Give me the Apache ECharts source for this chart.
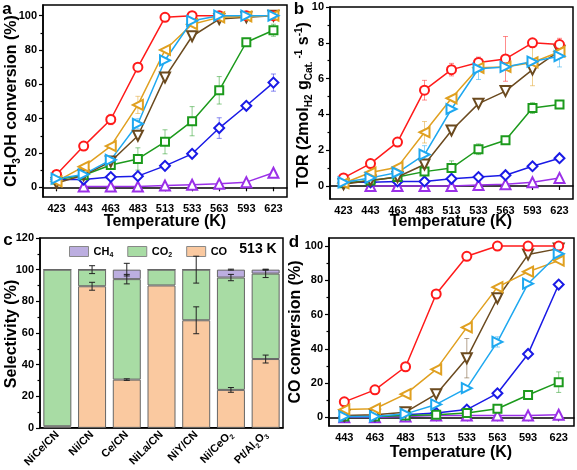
<!DOCTYPE html>
<html><head><meta charset="utf-8">
<script src="https://cdn.jsdelivr.net/npm/echarts@6/dist/echarts.min.js"></script>
<style>html,body{margin:0;padding:0;background:#fff}#c{width:577px;height:470px}</style>
</head><body><div id="c"></div>
<script>
// ---------- DATA ----------
const tempsAB = ['423','443','463','483','513','533','563','593','623'];
const tempsD = ['443','463','483','513','533','563','593','623'];

// panel a: CH3OH conversion (%)
const aRed    = [7.5, 24, 39.5, 70, 99, 100, 100, 100, 100];
const aOrange = [3.5, 12, 24, 48, 80, 95, 99, 99.5, 100];
const aLblue  = [5, 7.5, 16, 37, 74, 97, 100, 100, 100];
const aBrown  = [2.5, 7, 15, 30, 64, 88, 98, 99, 100];
const aGreen  = [4.5, 7, 13, 16.5, 26.5, 38.5, 56.5, 84.5, 91.5];
const aBlue   = [4.5, 4.5, 6, 6.5, 12.5, 19.5, 34.5, 47.5, 61];
const aPurple = [null, 0.5, 0.5, 0.5, 1, 1.5, 2, 3, 8.5];
const aErrRed    = [0, 0, 3, 2, 0, 0, 0, 0, 0];
const aErrOrange = [0, 0, 0, 5, 0, 0, 0, 0, 0];
const aErrLblue  = [0, 0, 0, 3, 0, 0, 0, 0, 0];
const aErrGreen  = [0, 0, 0, 6.5, 7, 8.5, 8, 2, 3.5];
const aErrBlue   = [0, 0, 0, 0, 0, 0, 6, 0, 5];

// panel b: TOR
const bRed    = [0.45, 1.25, 2.45, 5.35, 6.5, 6.9, 7.1, 8.0, 7.9];
const bOrange = [0.15, 0.75, 1.05, 3.0, 4.9, 6.6, 6.65, 6.9, 7.5];
const bLblue  = [0.2, 0.45, 0.75, 1.75, 4.3, 6.55, 6.65, 6.95, 7.25];
const bBrown  = [0.1, 0.3, 0.5, 1.2, 3.1, 4.6, 5.3, 6.5, 7.55];
const bGreen  = [0.15, 0.3, 0.5, 0.8, 1.0, 2.05, 2.55, 4.35, 4.55];
const bBlue   = [0.2, 0.2, 0.25, 0.25, 0.4, 0.5, 0.6, 1.1, 1.55];
const bPurple = [null, 0.0, 0.0, 0.0, 0.0, 0.05, 0.1, 0.2, 0.45];
const bErrRed    = [0, 0, 0, 0.55, 0.35, 0.3, 1.25, 0, 0.35];
const bErrOrange = [0, 0, 0, 0.6, 0, 0, 0, 1.3, 0];
const bErrLblue  = [0, 0, 0, 0.5, 0, 0.6, 0, 0, 0.6];
const bErrGreen  = [0, 0, 0, 0, 0.4, 0.3, 0, 0.3, 0];

// panel c: selectivity at 513 K
const catalysts = ['NiCe/CN','Ni/CN','Ce/CN','NiLa/CN','NiY/CN','Ni/CeO2','Pt/Al2O3'];
const selCO  = [1, 89.5, 30.5, 90, 68, 24, 43.5];
const selCO2 = [99, 10.5, 63.5, 10, 32, 71, 54];
const selCH4 = [0, 0, 6, 0, 0, 5, 2.5];
const errCO  = [0, 2.5, 0.5, 0, 8.5, 1.5, 2.5];
const errCO2 = [0, 2.5, 3, 0, 8.5, 2, 2.5];
const errCH4 = [0, 0, 4, 0, 0, 0.3, 0.3];

// panel d: CO conversion (%)
const dRed    = [9, 16, 29.5, 72, 94, 100, 100, 100];
const dOrange = [4.5, 5, 13.5, 28, 52.5, 76, 85, 91.5];
const dLblue  = [0.5, 0.5, 2, 7.5, 17, 44, 78, 95.5];
const dBrown  = [1, 1.5, 3, 13.5, 34.5, 69.5, 95, 98.5];
const dGreen  = [0.5, 0.5, 1, 1.5, 2.5, 5, 13, 20.5];
const dBlue   = [0.5, 0.5, 1.5, 2.5, 4.5, 14, 37, 77.5];
const dPurple = [0, 0, 0.5, 1, 1, 1, 1, 1.5];
const dErrRed   = [2, 0, 0, 0, 0, 0, 0, 0];
const dErrBrown = [0, 0, 0, 0, 11.5, 0, 0, 0];
const dErrLblue = [0, 0, 0, 0, 0, 3, 0, 0];
const dErrGreen = [0, 0, 0, 0, 0, 0, 0, 6];

// ---------- STYLE ----------
const FF = 'Liberation Sans, Arial, sans-serif';
const C = {red:'#ff1a1a', orange:'#e0a020', lblue:'#1ea8f0', brown:'#6b4a1f', green:'#1c9a1c', blue:'#1a1ae6', purple:'#9b30e8'};
const SYM = {
  red:{symbol:'emptyCircle', size:9, rot:0},
  orange:{symbol:'emptyTriangle', size:10, rot:90},
  lblue:{symbol:'emptyTriangle', size:10, rot:-90},
  brown:{symbol:'emptyTriangle', size:10, rot:180},
  green:{symbol:'emptyRect', size:8, rot:0},
  blue:{symbol:'emptyRect', size:7, rot:45},
  purple:{symbol:'emptyTriangle', size:10, rot:0}
};

function lineSeries(key, data, xi, yi){
  const s = SYM[key];
  return {type:'line', xAxisIndex:xi, yAxisIndex:yi, data:data, symbol:s.symbol, symbolSize:s.size,
    symbolRotate:s.rot, showAllSymbol:true, connectNulls:false,
    lineStyle:{color:C[key], width:1.5}, itemStyle:{color:C[key], borderWidth:1.5}, z:3, animation:false};
}
function errSeries(color, vals, errs, xi, yi, opacity, w){
  const d = [];
  vals.forEach((v,i)=>{ if(v!=null && errs[i]>0) d.push([i, v, errs[i]]); });
  return {type:'custom', xAxisIndex:xi, yAxisIndex:yi, data:d, z:2, animation:false, silent:true,
    renderItem:function(params, api){
      const x = api.value(0), y = api.value(1), e = api.value(2);
      const t = api.coord([x, y+e]), b = api.coord([x, y-e]);
      const st = {stroke:color, lineWidth:1, opacity:opacity};
      return {type:'group', children:[
        {type:'line', shape:{x1:t[0],y1:t[1],x2:b[0],y2:b[1]}, style:st},
        {type:'line', shape:{x1:t[0]-w,y1:t[1],x2:t[0]+w,y2:t[1]}, style:st},
        {type:'line', shape:{x1:b[0]-w,y1:b[1],x2:b[0]+w,y2:b[1]}, style:st}
      ]};
    }};
}
const lbl = {color:'#000', fontFamily:FF, fontWeight:'bold', fontSize:11};
function yAxes(gi, min, max, majors, minors){
  return [
    {type:'value', gridIndex:gi, min:min, max:max, position:'left',
      axisLine:{show:true, lineStyle:{color:'#000', width:1.5}},
      axisTick:{show:true, customValues:majors, length:4, lineStyle:{color:'#000', width:1.2}},
      axisLabel:Object.assign({customValues:majors, margin:6}, lbl),
      splitLine:{show:false}},
    {type:'value', gridIndex:gi, min:min, max:max, position:'left', offset:0,
      axisLine:{show:false},
      axisTick:{show:true, customValues:minors, length:2.5, lineStyle:{color:'#000', width:1.2}},
      axisLabel:{show:false}, splitLine:{show:false}}
  ];
}
function xAxis(gi, cats, opts){
  return Object.assign({type:'category', gridIndex:gi, data:cats, boundaryGap:true,
    axisLine:{show:true, lineStyle:{color:'#000', width:1.5}},
    axisTick:{show:true, alignWithLabel:true, length:4, lineStyle:{color:'#000', width:1.2}},
    axisLabel:Object.assign({margin:6, interval:0}, lbl),
    splitLine:{show:false}}, opts||{});
}
const gridBase = {show:true, borderColor:'#000', borderWidth:1.5, backgroundColor:'transparent', containLabel:false};

const series = [];
const order = ['purple','blue','green','brown','red','orange','lblue'];
const A = {red:aRed, orange:aOrange, lblue:aLblue, brown:aBrown, green:aGreen, blue:aBlue, purple:aPurple};
const B = {red:bRed, orange:bOrange, lblue:bLblue, brown:bBrown, green:bGreen, blue:bBlue, purple:bPurple};
const D = {red:dRed, orange:dOrange, lblue:dLblue, brown:dBrown, green:dGreen, blue:dBlue, purple:dPurple};
// panel a (grid 0, x0, y0)
series.push(errSeries(C.red, aRed, aErrRed, 0, 0, 0.5, 2.5));
series.push(errSeries(C.orange, aOrange, aErrOrange, 0, 0, 0.5, 2.5));
series.push(errSeries(C.lblue, aLblue, aErrLblue, 0, 0, 0.5, 2.5));
series.push(errSeries(C.green, aGreen, aErrGreen, 0, 0, 0.5, 2.5));
series.push(errSeries(C.blue, aBlue, aErrBlue, 0, 0, 0.5, 2.5));
order.forEach(k=>series.push(lineSeries(k, A[k], 0, 0)));
// panel b (grid 1, x1, y2)
series.push(errSeries(C.red, bRed, bErrRed, 1, 2, 0.5, 2.5));
series.push(errSeries(C.orange, bOrange, bErrOrange, 1, 2, 0.5, 2.5));
series.push(errSeries(C.lblue, bLblue, bErrLblue, 1, 2, 0.5, 2.5));
series.push(errSeries(C.green, bGreen, bErrGreen, 1, 2, 0.5, 2.5));
order.forEach(k=>series.push(lineSeries(k, B[k], 1, 2)));
// panel d (grid 3, x3, y6)
series.push(errSeries(C.red, dRed, dErrRed, 3, 6, 0.5, 2.5));
series.push(errSeries(C.brown, dBrown, dErrBrown, 3, 6, 0.5, 2.5));
series.push(errSeries(C.lblue, dLblue, dErrLblue, 3, 6, 0.5, 2.5));
series.push(errSeries(C.green, dGreen, dErrGreen, 3, 6, 0.5, 2.5));
order.forEach(k=>series.push(lineSeries(k, D[k], 3, 6)));
// panel c (grid 2, x2, y4)
const barBase = {type:'bar', xAxisIndex:2, yAxisIndex:4, stack:'sel', barWidth:28, animation:false};
series.push(Object.assign({name:'CO', data:selCO, itemStyle:{color:'#fac9a0', borderColor:'#666', borderWidth:1}}, barBase));
series.push(Object.assign({name:'CO2', data:selCO2, itemStyle:{color:'#a8dca4', borderColor:'#666', borderWidth:1}}, barBase));
series.push(Object.assign({name:'CH4', data:selCH4, itemStyle:{color:'#bcaee0', borderColor:'#666', borderWidth:1}}, barBase));
const topCO2 = selCO.map((v,i)=>v+selCO2[i]);
const topCH4 = topCO2.map((v,i)=>v+selCH4[i]);
series.push(errSeries('#222', selCO, errCO, 2, 4, 1, 3));
series.push(errSeries('#222', topCO2, errCO2, 2, 4, 1, 3));
series.push(errSeries('#222', topCH4, errCH4, 2, 4, 1, 3));
series.forEach(s=>{ if(s.type==='custom' && s.xAxisIndex===2) s.z = 4; });

function richLbl(size){
  return {m:{fontFamily:FF, fontWeight:'bold', fontSize:size, lineHeight:size+4, color:'#000'},
          s:{fontFamily:FF, fontWeight:'bold', fontSize:Math.round(size*0.65), lineHeight:Math.round(size*0.65), verticalAlign:'bottom', color:'#000'},
          p:{fontFamily:FF, fontWeight:'bold', fontSize:Math.round(size*0.62), lineHeight:Math.round(size*0.62), verticalAlign:'top', color:'#000'}};
}
function subify(v){ return '{m|' + v.replace(/(\d)/g, '}{s|$1}{m|') + '}'; }

function gtext(x, y, text, size, rot, rich){
  return {type:'text', x:x, y:y, rotation:rot||0, silent:true,
    style:{text:text, fill:'#000', fontFamily:FF, fontWeight:'bold', fontSize:size, align:'center', verticalAlign:'middle', rich:rich}};
}

const option = {
  backgroundColor:'#fff',
  animation:false,
  grid:[
    Object.assign({left:43, top:5, width:244, height:192}, gridBase),
    Object.assign({left:330, top:7, width:243, height:192}, gridBase),
    Object.assign({left:40, top:238, width:243, height:191}, gridBase),
    Object.assign({left:329, top:238, width:245, height:188}, gridBase)
  ],
  xAxis:[
    xAxis(0, tempsAB),
    xAxis(1, tempsAB),
    xAxis(2, catalysts, {axisTick:{show:false},
      axisLabel:Object.assign({margin:5, interval:0, rotate:45, formatter:subify, rich:richLbl(11)}, lbl)}),
    xAxis(3, tempsD)
  ],
  yAxis:[].concat(
    yAxes(0, -5.65, 106.2, [0,20,40,60,80,100], [10,30,50,70,90]),
    yAxes(1, -0.73, 10, [0,2,4,6,8,10], [1,3,5,7,9]),
    yAxes(2, 0, 120, [0,20,40,60,80,100,120], [10,30,50,70,90,110]),
    yAxes(3, -5.1, 104.7, [0,20,40,60,80,100], [10,30,50,70,90])
  ),
  legend:{data:['CH4','CO2','CO'], left:64, top:241, itemWidth:19, itemHeight:10, itemGap:14, icon:'rect',
    itemStyle:{borderColor:'#888', borderWidth:1},
    formatter:subify,
    textStyle:{fontFamily:FF, fontWeight:'bold', fontSize:11, color:'#000', rich:richLbl(11)}},
  series:series,
  graphic:[
    gtext(7, 9, 'a', 17),
    gtext(299, 9, 'b', 17),
    gtext(8, 240, 'c', 17),
    gtext(294, 242, 'd', 17),
    gtext(165, 222, 'Temperature (K)', 16),
    gtext(451, 222, 'Temperature (K)', 16),
    gtext(451, 453, 'Temperature (K)', 16),
    gtext(12, 101, '{m|CH}{s|3}{m|OH conversion (%)}', 16, Math.PI/2, richLbl(16)),
    gtext(304, 105, '{m|TOR (2mol}{s|H2}{m| g}{s|Cat.}{p| -1}{m| s}{p|-1}{m|)}', 16, Math.PI/2, richLbl(16)),
    gtext(12, 334, 'Selectivity (%)', 16, Math.PI/2),
    gtext(296, 332, 'CO conversion (%)', 16, Math.PI/2),
    gtext(258, 249, '513 K', 14)
  ]
};
const chart = echarts.init(document.getElementById('c'), null, {renderer:'canvas'});
chart.setOption(option);
</script></body></html>
